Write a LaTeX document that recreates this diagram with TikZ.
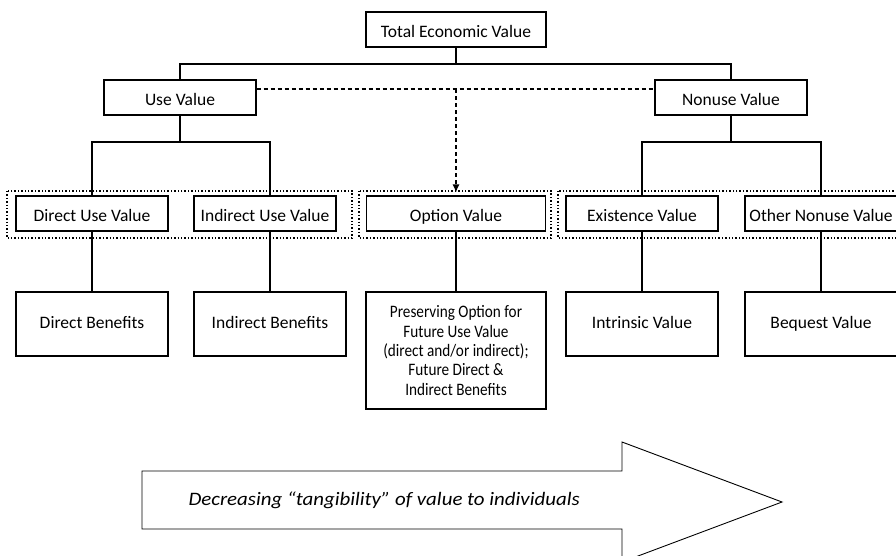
\documentclass[tikz,border=0pt]{standalone}
\usepackage{fontspec}
\setmainfont{Carlito}
\newfontfamily\narrowfont[FakeStretch=0.87]{Carlito}
\newfontfamily\widefont[FakeStretch=1.1]{Carlito}
\usetikzlibrary{arrows.meta}

\begin{document}
\begin{tikzpicture}[x=1pt, y=-1pt,
	valbox/.style={draw, line width=1.2pt, minimum width=152pt, minimum height=35pt, inner sep=0pt, text height=15pt, text depth=0pt, font=\fontsize{17.5}{19.3}\selectfont},
	benbox/.style={valbox, minimum height=64pt, text height=11.5pt, text depth=3pt},
	notebox/.style={draw, line width=1.2pt, minimum width=180pt, minimum height=117pt, inner sep=0pt, align=center, font=\narrowfont\fontsize{17.5}{19.3}\selectfont},
	link/.style={line width=1.3pt},
	group/.style={line width=1.4pt, dash pattern=on 1.4pt off 2pt}]

	\path[use as bounding box, clip] (0,0) rectangle (896,555);

	\draw
		(456,29.5) node[valbox, minimum width=180pt] (tev) {Total Economic Value}

		(180,97.5) node[valbox] (use) {Use Value}
		(731,97.5) node[valbox] (nonuse) {Nonuse Value}

		(92,213.5) node[valbox] (direct) {Direct Use Value}
		(265,213.5) node[valbox, minimum width=142pt] (indirect) {Indirect Use Value}
		(456,213.5) node[valbox, minimum width=179pt] (option) {Option Value}
		(642,213.5) node[valbox] (exist) {Existence Value}
		(821,213.5) node[valbox] (other) {Other Nonuse Value}

		(92,324) node[benbox] (ben1) {Direct Benefits}
		(270,324) node[benbox] (ben2) {Indirect Benefits}
		(456,350.5) node[notebox] (ben3) {Preserving Option for\\Future Use Value\\(direct and/or indirect);\\Future Direct \&\\Indirect Benefits}
		(642,324) node[benbox] (ben4) {Intrinsic Value}
		(821,324) node[benbox] (ben5) {Bequest Value};

	\coordinate (bus1) at (456,64);
	\coordinate (bus2) at (180,142);
	\coordinate (bus3) at (731,142);
	\coordinate (dash1) at ([yshift=8.5pt]use.east);

	\draw[link]
		(tev.south) -- (bus1)
		(use.north) |- (bus1) -| (nonuse.north)
		(use.south) -- (bus2)
		(direct.north) |- (bus2) -| (ben2.north |- indirect.north)
		(nonuse.south) -- (bus3)
		(exist.north) |- (bus3) -| (other.north);

	\draw[link]
		(direct.south) -- (ben1.north)
		(ben2.north |- indirect.south) -- (ben2.north)
		(option.south) -- (ben3.north)
		(exist.south) -- (ben4.north)
		(other.south) -- (ben5.north);

	\draw[link, dash pattern=on 4pt off 3pt]
		(dash1) -- (dash1 -| nonuse.west);
	\draw[link, dash pattern=on 4pt off 3pt, -{Latex[length=8pt, width=7pt]}]
		(dash1 -| bus1) -- ([yshift=3pt]bus1 |- option.north);

	\draw[group] (7,191) rectangle (352,238);
	\draw[group] (359,191) rectangle (551,238);
	\draw[group] (558,191) rectangle (905,238);

	\draw[line width=0.9pt]
		(142,471) -- (622,471) -- (622,442) -- (782,502) -- (622,562) -- (622,529) -- (142,529) -- cycle;
	\node[anchor=west, font=\widefont\itshape\fontsize{19}{21}\selectfont] (trend) at (185,500) {Decreasing “tangibility” of value to individuals};
\end{tikzpicture}
\end{document}
